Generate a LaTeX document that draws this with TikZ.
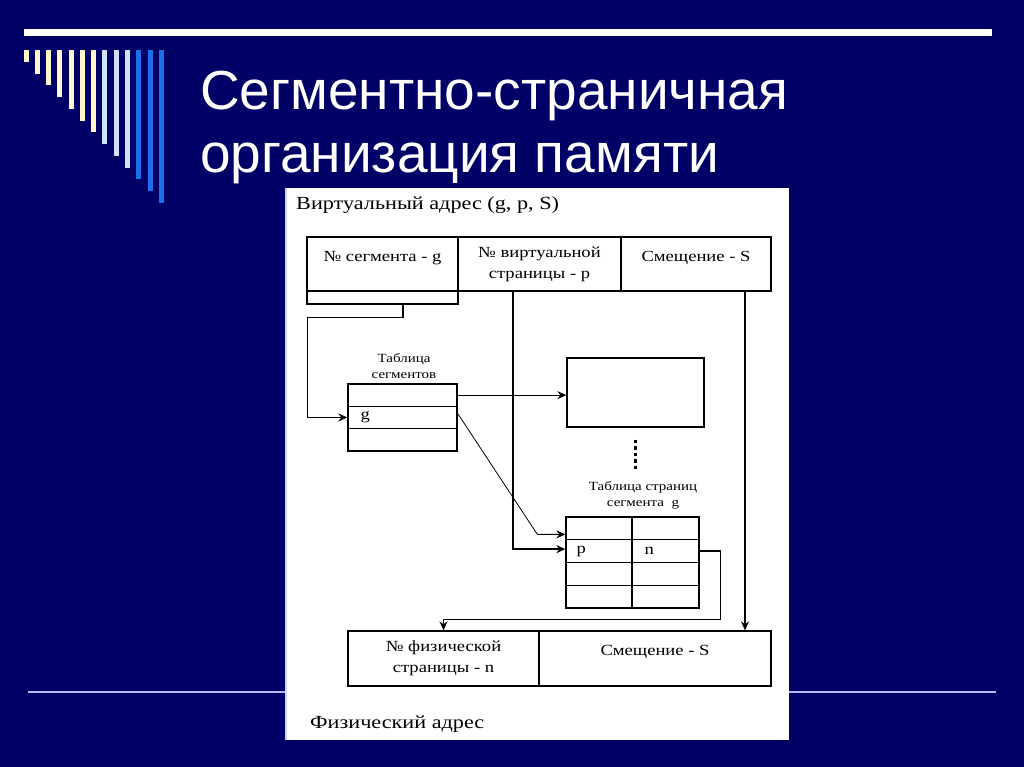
\documentclass[tikz,border=0pt]{standalone}
\usepackage{fontspec}
\setmainfont{Liberation Serif}
\newfontfamily\titlefont{Liberation Sans}
\newfontfamily\dfont[FakeStretch=1.2]{Liberation Serif}
\usetikzlibrary{arrows.meta,positioning,calc}
\definecolor{slidebg}{RGB}{0,0,102}
\definecolor{barcream}{RGB}{255,248,204}
\definecolor{barpale}{RGB}{204,226,255}
\definecolor{barblue}{RGB}{28,112,236}
\definecolor{rulepale}{RGB}{176,186,240}

\begin{document}
\begin{tikzpicture}[x=1pt, y=-1pt,
  cell/.style={draw, line width=1.3pt, inner sep=0pt, align=center, font=\dfont\fontsize{15.5}{21}\selectfont},
  hi/.style={text depth=15pt, text height=9pt},
  txt/.style={inner sep=0pt, font=\dfont\fontsize{15.5}{21}\selectfont},
  lbl/.style={inner sep=0pt, align=center, font=\dfont\fontsize{12.5}{16}\selectfont},
  head/.style={anchor=base west, inner sep=0pt, font=\dfont\fontsize{18.5}{22}\selectfont},
  ttl/.style={anchor=base west, inner sep=0pt, text=white, font=\titlefont\fontsize{55}{63}\selectfont},
  arr/.style={-{Stealth[length=9pt, width=8pt, inset=3pt]}, line width=1.3pt},
  thin arr/.style={arr, line width=0.8pt}]
\fill[slidebg] (0,0) rectangle (1024,767);
\useasboundingbox (0,0) rectangle (1024,767);
% slide decoration
\fill[white] (24,29) rectangle (992,36);
\foreach \i/\c in {0/barcream,1/barcream,2/barcream,3/barcream,4/barcream,5/barcream,6/barcream,
                   7/barpale,8/barpale,9/barpale,10/barblue,11/barblue,12/barblue}
  \draw[\c, line width=5pt] ({26+11.28*\i},50) -- ({26+11.28*\i},{62+11.75*\i});
\draw[rulepale, line width=2pt] (28,692) -- (996,692);
\node[ttl] (ttl1) at (200,110) {Сегментно-страничная};
\node[ttl] (ttl2) at (200,173) {организация памяти};
% white panel
\fill[white] (285,188) rectangle (789,740);
\draw[rulepale!60, line width=1.5pt] (286,188) -- (286,740);

% virtual address
\node[head] (vhead) at (296,210) {Виртуальный адрес (g, p, S)};
\node[cell, hi, minimum width=151, minimum height=54] (vseg) at (382.5,264) {№ сегмента - g};
\node[cell, minimum width=163, minimum height=54] (vpage) at (539.5,264) {№ виртуальной\\страницы - p};
\node[cell, hi, minimum width=150, minimum height=54] (voff) at (696,264) {Смещение - S};
\node[cell, minimum width=151, minimum height=13] (vsegx) at (382.5,297.5) {};

% segment table
\node[lbl] (segcap) at (404,366) {Таблица\\сегментов};
\foreach \r in {1,2,3}
  \node[cell, minimum width=109, minimum height=22.3] (seg\r) at (402.5,{372.85+22.3*\r}) {};
\node[txt, right=13pt of seg2.west] (segg) {g};

% segment and its page table
\node[cell, minimum width=137, minimum height=69] (mem) at (635.5,392.5) {};
\draw[line width=3.5pt, dash pattern=on 3.5pt off 3pt] ([yshift=-12pt]mem.south) -- ([yshift=-41pt]mem.south);
\node[lbl] (pgcap) at (643,495) {Таблица страниц\\сегмента~~g};
\foreach \r in {1,...,4} {
  \node[cell, minimum width=66, minimum height=22.75] (pg\r1) at (599,{505.625+22.75*\r}) {};
  \node[cell, minimum width=67, minimum height=22.75] (pg\r2) at (665.5,{505.625+22.75*\r}) {};
}
\node[txt, right=11pt of pg21.west] (pgp) {p};
\node[txt, right=13pt of pg22.west] (pgn) {n};

% physical address
\node[cell, minimum width=191, minimum height=55] (phpage) at (443.5,658.5) {№ физической\\страницы - n};
\node[cell, hi, minimum width=232, minimum height=55] (phoff) at (655,658.5) {Смещение - S};
\node[head] (phhead) at (310,728) {Физический адрес};

% connectors
\draw[arr] ([xshift=20.5pt]vsegx.south) -- ++(0,13) -| ([xshift=-40pt]seg2.west) -- (seg2.west);
\draw[arr] (seg1.east) -- (seg1.east -| mem.west);
\draw[thin arr] ([yshift=4pt]seg2.east) -- ([xshift=-28pt, yshift=-6pt]pg11.west) -- ([yshift=-6pt]pg11.west);
\draw[arr] ([xshift=-26.5pt]vpage.south) |- ([yshift=2pt]pg21.west);
\draw[arr] ([xshift=49pt]voff.south) -- ([xshift=49pt]voff.south |- phoff.north);
\draw[arr] (pg22.east) -- ++(21,0) |- ($(phpage.north)+(0,-11)$) -- (phpage.north);
\end{tikzpicture}
\end{document}
